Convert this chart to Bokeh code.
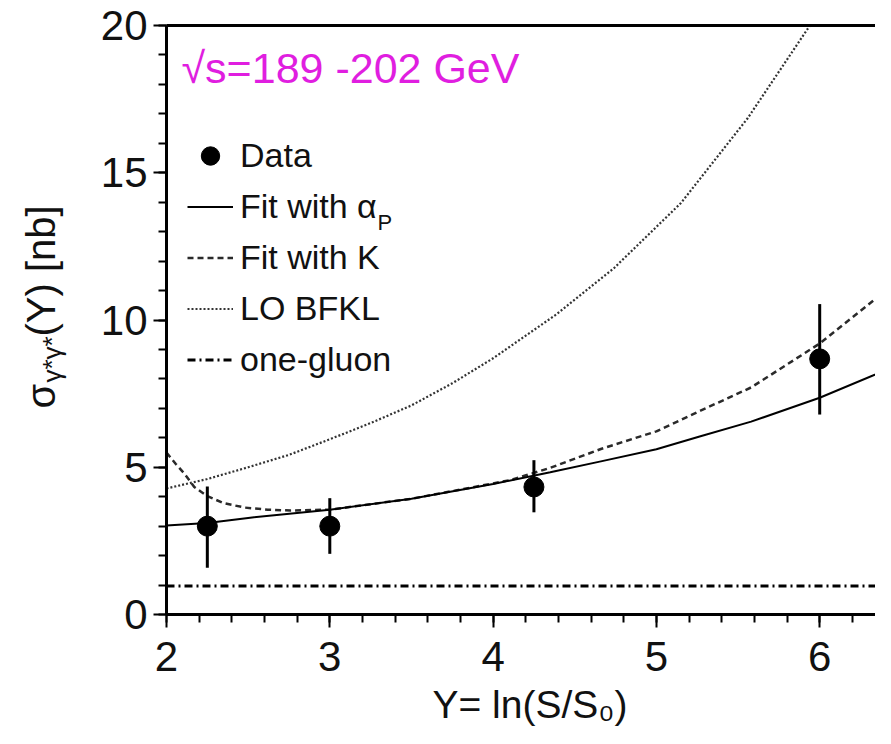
import math
from bokeh.plotting import figure
from bokeh.models import Range1d, FixedTicker, Label, Legend, LegendItem, LinearAxis
from bokeh.embed import file_html
from bokeh.resources import INLINE

# ---------------- data ----------------
data_x = [2.25, 3.0, 4.25, 6.0]
data_y = [3.0, 3.0, 4.33, 8.68]
data_lo = [1.59, 2.06, 3.47, 6.79]
data_hi = [4.35, 3.95, 5.24, 10.54]

fit_alpha_x = [2.0, 2.25, 2.5, 3.0, 3.5, 4.0, 4.35, 4.66, 5.0, 5.27, 5.58, 6.0, 6.44]
fit_alpha_y = [3.02, 3.11, 3.28, 3.56, 3.93, 4.43, 4.83, 5.2, 5.61, 6.05, 6.55, 7.36, 8.38]

fit_k_x = [2.0, 2.057, 2.11, 2.17, 2.25, 2.35, 2.48, 2.62, 2.76, 3.0, 3.5, 4.0, 4.11,
           4.35, 4.66, 5.0, 5.27, 5.58, 6.0, 6.44]
fit_k_y = [5.5, 5.11, 4.78, 4.33, 4.02, 3.78, 3.63, 3.56, 3.53, 3.56, 3.93, 4.45, 4.57,
           4.98, 5.62, 6.22, 6.92, 7.71, 9.2, 11.15]

lo_bfkl_x = [2.0, 2.25, 2.5, 2.75, 3.0, 3.25, 3.5, 3.75, 4.0, 4.39, 4.74, 5.15, 5.56, 5.94]
lo_bfkl_y = [4.28, 4.6, 5.0, 5.42, 5.95, 6.5, 7.1, 7.85, 8.7, 10.2, 11.76, 13.97, 16.86, 20.0]

gluon_x = [2.0, 6.45]
gluon_y = [0.97, 0.97]

x_major_ticks = [2, 3, 4, 5, 6]
y_major_ticks = [0, 5, 10, 15, 20]

legend_labels = ["Data", "Fit with \u03b1", "Fit with K", "LO BFKL", "one-gluon"]
energy_text = "\u221as=189 -202 GeV"
x_title = "Y= ln(S/S\u2080)"
y_title_main = "\u03c3"
y_title_sub = "\u03b3*\u03b3*"
y_title_rest = "(Y) [nb]"

# ---------------- layout geometry (canvas pixels) ----------------
FONT = "Liberation Sans"
W, H = 875, 728
X0, PXX = 166.0, 163.3        # canvas x of Y=2, pixels per unit in x
Y0, PXY = 614.0, 29.45        # canvas y of sigma=0, pixels per unit in y
x_start = 2 - X0 / PXX
x_end = 2 + (W - X0) / PXX
y_start = -(H - Y0) / PXY
y_end = Y0 / PXY

p = figure(width=W, height=H, output_backend="svg", toolbar_location=None,
           x_range=Range1d(x_start, x_end), y_range=Range1d(y_start, y_end),
           min_border=0)
p.title.visible = False
p.xgrid.visible = False
p.ygrid.visible = False
p.outline_line_color = None
p.background_fill_color = "white"
p.border_fill_color = "white"

x_minor = [round(2 + 0.2 * i, 2) for i in range(0, 23)]
y_minor = list(range(0, 21))
p.xaxis.ticker = FixedTicker(ticks=x_major_ticks, minor_ticks=x_minor)
p.yaxis.ticker = FixedTicker(ticks=y_major_ticks, minor_ticks=y_minor)
p.xaxis.fixed_location = 0
p.yaxis.fixed_location = 2
p.xaxis.bounds = (2, x_end)
p.yaxis.bounds = (0, 20)

for ax, standoff in ((p.xaxis, 14), (p.yaxis, 6)):
    ax.axis_line_width = 3
    ax.axis_line_color = "black"
    ax.major_tick_in = 0
    ax.major_tick_out = 13
    ax.minor_tick_in = 0
    ax.minor_tick_out = 8
    ax.major_tick_line_width = 2
    ax.minor_tick_line_width = 2
    ax.major_tick_line_color = "black"
    ax.minor_tick_line_color = "black"
    ax.major_label_text_font = FONT
    ax.major_label_text_font_size = "42px"
    ax.major_label_text_color = "#111111"
    ax.major_label_standoff = standoff

# top frame border (an axis without ticks)
top = LinearAxis(fixed_location=20, bounds=(2, x_end), ticker=FixedTicker(ticks=[]),
                 axis_line_width=3, axis_line_color="black",
                 major_tick_line_color=None, minor_tick_line_color=None,
                 major_label_text_alpha=0)
p.add_layout(top, "above")

# ---------------- glyphs ----------------
r_gluon = p.line(gluon_x, gluon_y, line_color="black", line_width=3, line_dash="8 4 2 4")
r_bfkl = p.line(lo_bfkl_x, lo_bfkl_y, line_color="#333333", line_width=2.2, line_dash="2 2")
r_k = p.line(fit_k_x, fit_k_y, line_color="#2a2a2a", line_width=2.5, line_dash="6 4")
r_alpha = p.line(fit_alpha_x, fit_alpha_y, line_color="black", line_width=2)
p.segment(data_x, data_lo, data_x, data_hi, line_color="black", line_width=3)
r_data = p.scatter(data_x, data_y, size=20, color="black")

GH, SP = 49, 2
n_items = len(legend_labels)
leg_top = 155 - GH / 2
leg_h = n_items * GH + (n_items - 1) * SP
legend = Legend(items=[
    LegendItem(label=legend_labels[0], renderers=[r_data]),
    LegendItem(label=legend_labels[1], renderers=[r_alpha]),
    LegendItem(label=legend_labels[2], renderers=[r_k]),
    LegendItem(label=legend_labels[3], renderers=[r_bfkl]),
    LegendItem(label=legend_labels[4], renderers=[r_gluon]),
], location=(187, H - leg_top - leg_h), border_line_color=None,
    background_fill_alpha=0, padding=0, margin=0, spacing=SP,
    glyph_width=46, glyph_height=GH, label_standoff=7, label_text_font=FONT,
    label_text_font_size="34px", label_text_color="#111111")
p.add_layout(legend)


def lab(text, X, Y, size, angle=0.0, color="#111111"):
    """X, Y: canvas pixel position (left end, centre line of the text)."""
    p.add_layout(Label(x=X, y=H - Y, x_units="screen", y_units="screen",
                       text=text, angle=angle, text_font=FONT,
                       text_font_size=size, text_color=color,
                       text_align="left", text_baseline="middle"))


# subscript P of alpha in the legend
lab("P", 377, 222, "22px")
# energy annotation
lab(energy_text, 181, 67, "43px", color="#e01ee0")
# x axis title
lab(x_title, 432, 704, "39px")
# y axis title: sigma, subscript, rest (rotated)
ang = math.pi / 2
lab(y_title_main, 40, 408, "40px", angle=ang)
lab(y_title_sub, 51, 382, "26px", angle=ang)
lab(y_title_rest, 40, 336, "40px", angle=ang)

open("out.html", "w").write(file_html(p, INLINE))
